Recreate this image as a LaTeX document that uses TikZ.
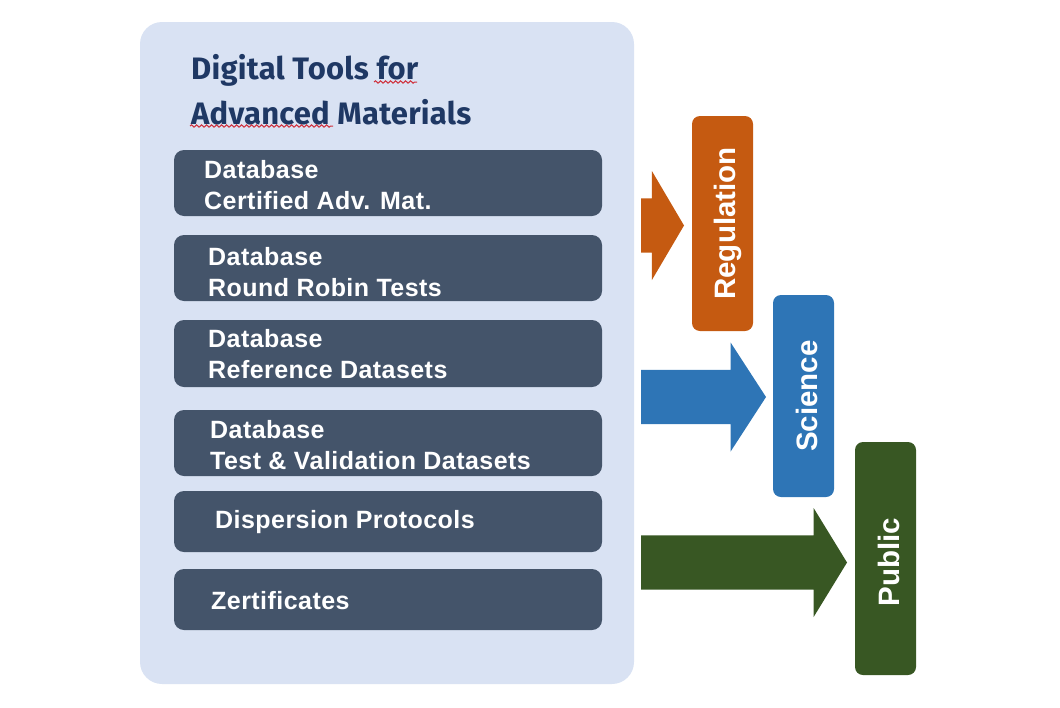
\documentclass[tikz,border=0pt]{standalone}
\usepackage{fontspec}
\setmainfont{Liberation Sans}
\newfontfamily\titlefont[LetterSpace=0.8]{Fira Sans}
\newfontfamily\boxfont[LetterSpace=1.8]{Liberation Sans}
\usepackage{tikz}
\usetikzlibrary{shapes.arrows,decorations.pathmorphing}

\definecolor{panelblue}{HTML}{D9E2F3}
\definecolor{boxslate}{HTML}{44546A}
\definecolor{titlenavy}{HTML}{1F3864}
\definecolor{regorange}{HTML}{C55A11}
\definecolor{sciblue}{HTML}{2E75B6}
\definecolor{pubgreen}{HTML}{385723}
\definecolor{squigred}{HTML}{D0303C}

\tikzset{
  panelbox/.style={fill=panelblue,rounded corners=22pt,inner sep=0pt,minimum width=494pt,minimum height=662pt},
  toolbox/.style={fill=boxslate,rounded corners=10pt,inner sep=0pt,minimum width=428pt},
  boxtext/.style={text=white,font=\boxfont\fontsize{25}{31}\selectfont\bfseries,align=left,anchor=west,inner sep=0pt},
  titletext/.style={text=titlenavy,font=\titlefont\fontsize{31}{45}\selectfont\bfseries,align=left,anchor=west,inner sep=0pt},
  sidebox/.style={rotate=90,rounded corners=8pt,inner sep=0pt,minimum height=61pt,text=white,text depth=0pt,font=\fontsize{29.5}{32}\selectfont\bfseries},
  blockarrow/.style={single arrow,anchor=west,inner sep=0pt,outer sep=0pt,text height=40pt,text depth=0pt,text width=0pt,minimum width=109pt,single arrow head extend=20.5pt,single arrow head indent=0pt},
  squiggle/.style={draw=squigred,line width=1pt,decorate,decoration={snake,segment length=5pt,amplitude=1.2pt}}
}

\begin{document}
\begin{tikzpicture}[x=1pt,y=-1pt]
\useasboundingbox (0,0) rectangle (1060,707);
% left panel
\node (panel) [panelbox] at (387,353) {};
\node (title) [titletext] at (191,90) {Digital Tools for\\Advanced Materials};
\coordinate (forstart) at (374,82);
\coordinate (forend) at (417,82);
\coordinate (advstart) at (190,126);
\coordinate (advend) at (333,126);
\draw [squiggle] (forstart) -- (forend);
\draw [squiggle] (advstart) -- (advend);
% tool boxes
\node (certified) [toolbox,minimum height=66pt] at (388,183) {};
\node (roundrobin) [toolbox,minimum height=66pt] at (388,268) {};
\node (reference) [toolbox,minimum height=67pt] at (388,353.5) {};
\node (validation) [toolbox,minimum height=66pt] at (388,443) {};
\node (dispersion) [toolbox,minimum height=61pt] at (388,521.5) {};
\node (zertificates) [toolbox,minimum height=61pt] at (388,599.5) {};
\node (certifiedtext) [boxtext] at (204,185) {Database\\Certified Adv. Mat.};
\node (roundrobintext) [boxtext] at (208,272) {Database\\Round Robin Tests};
\node (referencetext) [boxtext] at (208,354) {Database\\Reference Datasets};
\node (validationtext) [boxtext] at (210,445.5) {Database\\Test \& Validation Datasets};
\node (dispersiontext) [boxtext] at (215,522) {Dispersion Protocols};
\node (zertificatestext) [boxtext] at (211,601) {Zertificates};
% audience boxes
\node (regulation) [sidebox,fill=regorange,minimum width=215pt,text height=25pt] at (722.5,223.5) {Regulation};
\node (science) [sidebox,fill=sciblue,minimum width=202pt,text height=27pt] at (803.5,396) {Science};
\node (public) [sidebox,fill=pubgreen,minimum width=233pt,text height=28pt] at (885.5,558.5) {Public\hspace*{7pt}};
% block arrows
\node (regarrow) [blockarrow,fill=regorange,minimum height=43pt,single arrow tip angle=119] at (641,225.5) {};
\node (sciarrow) [blockarrow,fill=sciblue,minimum height=125pt,single arrow tip angle=114] at (641,397) {};
\node (pubarrow) [blockarrow,fill=pubgreen,minimum height=206pt,single arrow tip angle=117] at (641,562.5) {};
\end{tikzpicture}
\end{document}
